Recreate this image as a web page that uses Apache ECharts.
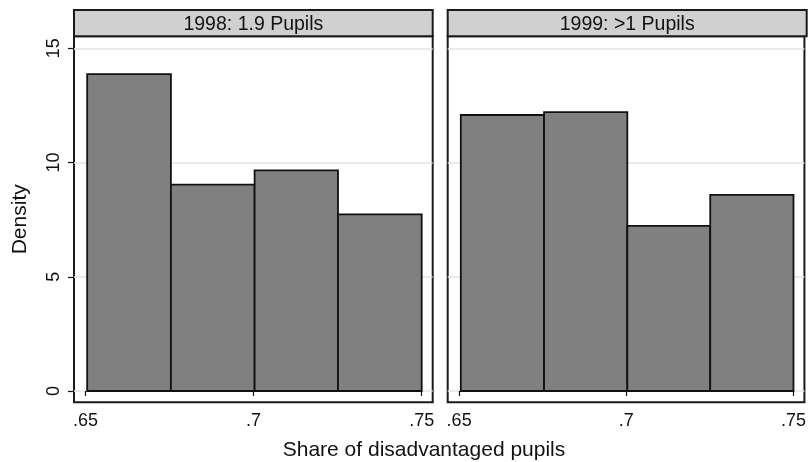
<!DOCTYPE html>
<html>
<head>
<meta charset="utf-8">
<script src="https://cdn.jsdelivr.net/npm/echarts@6/dist/echarts.min.js"></script>
<style>
  html, body { margin: 0; padding: 0; background: #fff; }
  #chart { width: 809px; height: 462px; }
</style>
</head>
<body>
<div id="chart"></div>
<script>
// panel titles
const panelTitles = ['1998: 1.9 Pupils', '1999: >1 Pupils']
// histogram bin edges (share of disadvantaged pupils)
const binEdges = [0.6505, 0.6754, 0.7003, 0.7251, 0.75]
// density per bin
const density1998 = [13.87, 9.03, 9.66, 7.73]
const density1999 = [12.08, 12.21, 7.23, 8.58]
// tick labels
const xTicks = [0.65, 0.7, 0.75]
const yTicks = [0, 5, 10, 15]

const FONT = 'Liberation Sans, Arial, Helvetica, sans-serif'
const chart = echarts.init(document.getElementById('chart'), null, { renderer: 'canvas' })

// 面板位置
const panels = [
    { left: 74, top: 36.3, width: 358.7, height: 366 },
    { left: 447.7, top: 36.3, width: 359, height: 366 }
]

const toBins = (vals) => vals.map((v, i) => [binEdges[i], binEdges[i + 1], v])

const renderBar = (params, api) => {
    const p0 = api.coord([api.value(0), api.value(2)])
    const p1 = api.coord([api.value(1), 0])
    return {
        type: 'rect',
        shape: { x: p0[0], y: p0[1], width: p1[0] - p0[0], height: p1[1] - p0[1] },
        style: { fill: '#808080', stroke: '#111', lineWidth: 1.8 }
    }
}

const xAxisOf = (idx) => ({
    type: 'value',
    gridIndex: idx,
    min: 0.64658,
    max: 0.75327,
    axisLine: { show: false },
    axisTick: { show: true, customValues: xTicks, length: 5, lineStyle: { color: '#111', width: 1.2 } },
    axisLabel: {
        customValues: xTicks,
        margin: 10,
        fontSize: 18,
        fontFamily: FONT,
        color: '#111',
        formatter: (v) => String(v).replace(/^0/, '')
    },
    splitLine: { show: false }
})

const yAxisOf = (idx) => ({
    type: 'value',
    gridIndex: idx,
    min: -0.4945,
    max: 15.525,
    name: idx === 0 ? 'Density' : '',
    nameLocation: 'middle',
    nameRotate: 90,
    nameGap: 43,
    nameTextStyle: { fontSize: 21, fontFamily: FONT, color: '#111' },
    axisLine: { show: false },
    axisTick: { show: idx === 0, customValues: yTicks, length: 6, lineStyle: { color: '#111', width: 1.2 } },
    axisLabel: {
        show: idx === 0,
        customValues: yTicks,
        rotate: 90,
        margin: 11,
        fontSize: 18,
        fontFamily: FONT,
        color: '#111'
    },
    splitLine: { show: true, lineStyle: { color: '#e3e3e3', width: 1.5 } }
})

const options = {
    animation: false,
    backgroundColor: '#fff',
    grid: panels.map((p) => ({
        ...p,
        show: true,
        backgroundColor: '#fff',
        borderColor: '#1a1a1a',
        borderWidth: 2
    })),
    xAxis: [xAxisOf(0), xAxisOf(1)],
    yAxis: [yAxisOf(0), yAxisOf(1)],
    series: [
        { type: 'custom', xAxisIndex: 0, yAxisIndex: 0, renderItem: renderBar, encode: { x: [0, 1], y: 2 }, data: toBins(density1998) },
        { type: 'custom', xAxisIndex: 1, yAxisIndex: 1, renderItem: renderBar, encode: { x: [0, 1], y: 2 }, data: toBins(density1999) }
    ],
    // 标题条
    graphic: [
        ...panels.map((p, i) => ({
            type: 'group',
            children: [
                {
                    type: 'rect',
                    shape: { x: p.left, y: 10, width: p.width, height: p.top - 10 },
                    style: { fill: '#d0d0d0', stroke: '#1a1a1a', lineWidth: 2 }
                },
                {
                    type: 'text',
                    x: p.left + p.width / 2,
                    y: (10 + p.top) / 2 + 1,
                    style: {
                        text: panelTitles[i],
                        fontSize: 19.5,
                        fontFamily: FONT,
                        fill: '#111',
                        align: 'center',
                        verticalAlign: 'middle'
                    }
                }
            ]
        })),
        {
            type: 'text',
            x: 424,
            y: 450,
            style: {
                text: 'Share of disadvantaged pupils',
                fontSize: 21,
                fontFamily: FONT,
                fill: '#111',
                align: 'center',
                verticalAlign: 'middle'
            }
        }
    ]
}

chart.setOption(options)
</script>
</body>
</html>
